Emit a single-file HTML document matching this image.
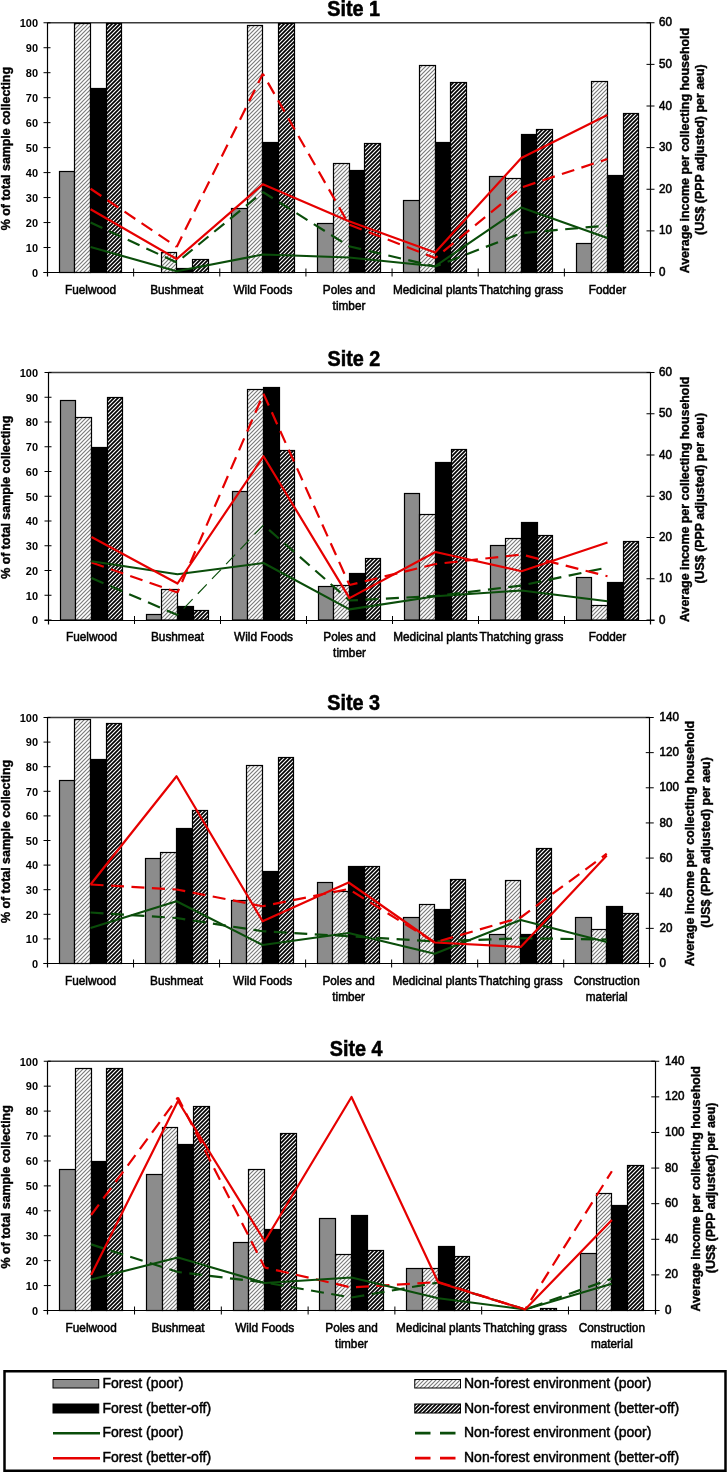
<!DOCTYPE html>
<html><head><meta charset="utf-8"><title>Chart</title>
<style>html,body{margin:0;padding:0;background:#fff;width:728px;height:1473px;overflow:hidden}
text{font-family:"Liberation Sans", sans-serif;fill:#000}
svg{will-change:transform;transform:translateZ(0);background:transparent}</style></head>
<body>
<svg width="728" height="1473" viewBox="0 0 728 1473" style="display:block"><defs>
<pattern id="hl" patternUnits="userSpaceOnUse" width="4" height="4">
<rect width="4" height="4" fill="#fff"/>
<path d="M-1,1 L1,-1 M0,4 L4,0 M3,5 L5,3" stroke="#7a7a7a" stroke-width="1.15"/>
</pattern>
<pattern id="hd" patternUnits="userSpaceOnUse" width="4" height="4">
<rect width="4" height="4" fill="#fff"/>
<path d="M-1,1 L1,-1 M0,4 L4,0 M3,5 L5,3" stroke="#000" stroke-width="1.7"/>
</pattern>
</defs><rect width="728" height="1473" fill="#fff"/><g><line x1="47.5" y1="22.75" x2="650.5" y2="22.75" stroke="#3a3a3a" stroke-width="1.3"/><rect x="59.5" y="171.5" width="15" height="101" fill="#8c8c8c" stroke="#000" stroke-width="1.2"/><rect x="74.5" y="23.5" width="16" height="249" fill="url(#hl)" stroke="#000" stroke-width="1.2"/><rect x="90.5" y="88.5" width="16" height="184" fill="#000" stroke="#000" stroke-width="1.2"/><rect x="106.5" y="23.5" width="15" height="249" fill="url(#hd)" stroke="#000" stroke-width="1.2"/><rect x="161.5" y="252.5" width="15" height="20" fill="url(#hl)" stroke="#000" stroke-width="1.2"/><rect x="176.5" y="268.5" width="16" height="4" fill="#000" stroke="#000" stroke-width="1.2"/><rect x="192.5" y="259.5" width="16" height="13" fill="url(#hd)" stroke="#000" stroke-width="1.2"/><rect x="231.5" y="208.5" width="16" height="64" fill="#8c8c8c" stroke="#000" stroke-width="1.2"/><rect x="247.5" y="25.5" width="15" height="247" fill="url(#hl)" stroke="#000" stroke-width="1.2"/><rect x="262.5" y="142.5" width="16" height="130" fill="#000" stroke="#000" stroke-width="1.2"/><rect x="278.5" y="23.5" width="16" height="249" fill="url(#hd)" stroke="#000" stroke-width="1.2"/><rect x="317.5" y="223.5" width="16" height="49" fill="#8c8c8c" stroke="#000" stroke-width="1.2"/><rect x="333.5" y="163.5" width="16" height="109" fill="url(#hl)" stroke="#000" stroke-width="1.2"/><rect x="349.5" y="170.5" width="15" height="102" fill="#000" stroke="#000" stroke-width="1.2"/><rect x="364.5" y="143.5" width="16" height="129" fill="url(#hd)" stroke="#000" stroke-width="1.2"/><rect x="403.5" y="200.5" width="16" height="72" fill="#8c8c8c" stroke="#000" stroke-width="1.2"/><rect x="419.5" y="65.5" width="16" height="207" fill="url(#hl)" stroke="#000" stroke-width="1.2"/><rect x="435.5" y="142.5" width="15" height="130" fill="#000" stroke="#000" stroke-width="1.2"/><rect x="450.5" y="82.5" width="16" height="190" fill="url(#hd)" stroke="#000" stroke-width="1.2"/><rect x="489.5" y="176.5" width="16" height="96" fill="#8c8c8c" stroke="#000" stroke-width="1.2"/><rect x="505.5" y="178.5" width="16" height="94" fill="url(#hl)" stroke="#000" stroke-width="1.2"/><rect x="521.5" y="134.5" width="15" height="138" fill="#000" stroke="#000" stroke-width="1.2"/><rect x="536.5" y="129.5" width="16" height="143" fill="url(#hd)" stroke="#000" stroke-width="1.2"/><rect x="576.5" y="243.5" width="15" height="29" fill="#8c8c8c" stroke="#000" stroke-width="1.2"/><rect x="591.5" y="81.5" width="16" height="191" fill="url(#hl)" stroke="#000" stroke-width="1.2"/><rect x="607.5" y="175.5" width="16" height="97" fill="#000" stroke="#000" stroke-width="1.2"/><rect x="623.5" y="113.5" width="15" height="159" fill="url(#hd)" stroke="#000" stroke-width="1.2"/><line x1="47.5" y1="22.75" x2="47.5" y2="276.5" stroke="#000" stroke-width="1.2"/><line x1="650.5" y1="22.75" x2="650.5" y2="276.5" stroke="#000" stroke-width="1.2"/><line x1="43.5" y1="272.5" x2="654.5" y2="272.5" stroke="#000" stroke-width="1.2"/><line x1="43.5" y1="272.5" x2="50.5" y2="272.5" stroke="#000" stroke-width="1"/><text transform="translate(38,276.8) scale(1,1.05)" font-size="11" font-weight="bold" text-anchor="end">0</text><line x1="43.5" y1="247.53" x2="50.5" y2="247.53" stroke="#000" stroke-width="1"/><text transform="translate(38,251.83) scale(1,1.05)" font-size="11" font-weight="bold" text-anchor="end">10</text><line x1="43.5" y1="222.55" x2="50.5" y2="222.55" stroke="#000" stroke-width="1"/><text transform="translate(38,226.85) scale(1,1.05)" font-size="11" font-weight="bold" text-anchor="end">20</text><line x1="43.5" y1="197.57" x2="50.5" y2="197.57" stroke="#000" stroke-width="1"/><text transform="translate(38,201.88) scale(1,1.05)" font-size="11" font-weight="bold" text-anchor="end">30</text><line x1="43.5" y1="172.6" x2="50.5" y2="172.6" stroke="#000" stroke-width="1"/><text transform="translate(38,176.9) scale(1,1.05)" font-size="11" font-weight="bold" text-anchor="end">40</text><line x1="43.5" y1="147.62" x2="50.5" y2="147.62" stroke="#000" stroke-width="1"/><text transform="translate(38,151.93) scale(1,1.05)" font-size="11" font-weight="bold" text-anchor="end">50</text><line x1="43.5" y1="122.65" x2="50.5" y2="122.65" stroke="#000" stroke-width="1"/><text transform="translate(38,126.95) scale(1,1.05)" font-size="11" font-weight="bold" text-anchor="end">60</text><line x1="43.5" y1="97.68" x2="50.5" y2="97.68" stroke="#000" stroke-width="1"/><text transform="translate(38,101.98) scale(1,1.05)" font-size="11" font-weight="bold" text-anchor="end">70</text><line x1="43.5" y1="72.7" x2="50.5" y2="72.7" stroke="#000" stroke-width="1"/><text transform="translate(38,77) scale(1,1.05)" font-size="11" font-weight="bold" text-anchor="end">80</text><line x1="43.5" y1="47.72" x2="50.5" y2="47.72" stroke="#000" stroke-width="1"/><text transform="translate(38,52.02) scale(1,1.05)" font-size="11" font-weight="bold" text-anchor="end">90</text><line x1="43.5" y1="22.75" x2="50.5" y2="22.75" stroke="#000" stroke-width="1"/><text transform="translate(38,27.05) scale(1,1.05)" font-size="11" font-weight="bold" text-anchor="end">100</text><line x1="646.5" y1="272.5" x2="654.5" y2="272.5" stroke="#000" stroke-width="1"/><text transform="translate(659,276.1) scale(1,1.07)" font-size="11.6" text-anchor="start" stroke="#000" stroke-width="0.55">0</text><line x1="646.5" y1="230.88" x2="654.5" y2="230.88" stroke="#000" stroke-width="1"/><text transform="translate(659,234.47) scale(1,1.07)" font-size="11.6" text-anchor="start" stroke="#000" stroke-width="0.55">10</text><line x1="646.5" y1="189.25" x2="654.5" y2="189.25" stroke="#000" stroke-width="1"/><text transform="translate(659,192.85) scale(1,1.07)" font-size="11.6" text-anchor="start" stroke="#000" stroke-width="0.55">20</text><line x1="646.5" y1="147.62" x2="654.5" y2="147.62" stroke="#000" stroke-width="1"/><text transform="translate(659,151.22) scale(1,1.07)" font-size="11.6" text-anchor="start" stroke="#000" stroke-width="0.55">30</text><line x1="646.5" y1="106" x2="654.5" y2="106" stroke="#000" stroke-width="1"/><text transform="translate(659,109.6) scale(1,1.07)" font-size="11.6" text-anchor="start" stroke="#000" stroke-width="0.55">40</text><line x1="646.5" y1="64.38" x2="654.5" y2="64.38" stroke="#000" stroke-width="1"/><text transform="translate(659,67.97) scale(1,1.07)" font-size="11.6" text-anchor="start" stroke="#000" stroke-width="0.55">50</text><line x1="646.5" y1="22.75" x2="654.5" y2="22.75" stroke="#000" stroke-width="1"/><text transform="translate(659,26.35) scale(1,1.07)" font-size="11.6" text-anchor="start" stroke="#000" stroke-width="0.55">60</text><line x1="133.64" y1="268.5" x2="133.64" y2="276.5" stroke="#000" stroke-width="1"/><line x1="219.79" y1="268.5" x2="219.79" y2="276.5" stroke="#000" stroke-width="1"/><line x1="305.93" y1="268.5" x2="305.93" y2="276.5" stroke="#000" stroke-width="1"/><line x1="392.07" y1="268.5" x2="392.07" y2="276.5" stroke="#000" stroke-width="1"/><line x1="478.21" y1="268.5" x2="478.21" y2="276.5" stroke="#000" stroke-width="1"/><line x1="564.36" y1="268.5" x2="564.36" y2="276.5" stroke="#000" stroke-width="1"/><text transform="translate(90.57,293.75) scale(1,1.1)" font-size="11.8" text-anchor="middle" stroke="#000" stroke-width="0.5">Fuelwood</text><text transform="translate(176.71,293.75) scale(1,1.1)" font-size="11.8" text-anchor="middle" stroke="#000" stroke-width="0.5">Bushmeat</text><text transform="translate(262.86,293.75) scale(1,1.1)" font-size="11.8" text-anchor="middle" stroke="#000" stroke-width="0.5">Wild Foods</text><text transform="translate(349,293.75) scale(1,1.1)" font-size="11.8" text-anchor="middle" stroke="#000" stroke-width="0.5">Poles and</text><text transform="translate(349,309.75) scale(1,1.1)" font-size="11.8" text-anchor="middle" stroke="#000" stroke-width="0.5">timber</text><text transform="translate(435.14,293.75) scale(1,1.1)" font-size="11.8" text-anchor="middle" stroke="#000" stroke-width="0.5">Medicinal plants</text><text transform="translate(521.29,293.75) scale(1,1.1)" font-size="11.8" text-anchor="middle" stroke="#000" stroke-width="0.5">Thatching grass</text><text transform="translate(607.43,293.75) scale(1,1.1)" font-size="11.8" text-anchor="middle" stroke="#000" stroke-width="0.5">Fodder</text><line x1="90.57" y1="222.5" x2="176.71" y2="262.5" stroke="#0a4d0a" stroke-width="2.2" stroke-dasharray="13,7.5" stroke-dashoffset="0"/><line x1="176.71" y1="262.5" x2="262.86" y2="192" stroke="#0a4d0a" stroke-width="2.2" stroke-dasharray="13,7.5" stroke-dashoffset="94.98"/><line x1="262.86" y1="192" x2="349" y2="246.25" stroke="#0a4d0a" stroke-width="2.2" stroke-dasharray="13,7.5" stroke-dashoffset="206.29"/><line x1="349" y1="246.25" x2="435.14" y2="266.5" stroke="#0a4d0a" stroke-width="2.2" stroke-dasharray="13,7.5" stroke-dashoffset="308.09"/><line x1="435.14" y1="266.5" x2="521.29" y2="233.2" stroke="#0a4d0a" stroke-width="2.2" stroke-dasharray="13,7.5" stroke-dashoffset="396.58"/><line x1="521.29" y1="233.2" x2="607.43" y2="225.5" stroke="#0a4d0a" stroke-width="2.2" stroke-dasharray="13,7.5" stroke-dashoffset="488.94"/><line x1="90.57" y1="188.75" x2="176.71" y2="246.9" stroke="#e60000" stroke-width="2.2" stroke-dasharray="13,7.5" stroke-dashoffset="0"/><line x1="176.71" y1="246.9" x2="262.86" y2="73.75" stroke="#e60000" stroke-width="2.2" stroke-dasharray="13,7.5" stroke-dashoffset="103.93"/><line x1="262.86" y1="73.75" x2="349" y2="224.5" stroke="#e60000" stroke-width="2.2" stroke-dasharray="13,7.5" stroke-dashoffset="297.33"/><line x1="349" y1="224.5" x2="435.14" y2="258" stroke="#e60000" stroke-width="2.2" stroke-dasharray="13,7.5" stroke-dashoffset="470.95"/><line x1="435.14" y1="258" x2="521.29" y2="187.5" stroke="#e60000" stroke-width="2.2" stroke-dasharray="13,7.5" stroke-dashoffset="563.38"/><line x1="521.29" y1="187.5" x2="607.43" y2="159" stroke="#e60000" stroke-width="2.2" stroke-dasharray="13,7.5" stroke-dashoffset="674.7"/><polyline points="90.57,247 176.71,271.25 262.86,254.5 349,257.5 435.14,266.25 521.29,207.5 607.43,238" fill="none" stroke="#0a4d0a" stroke-width="2.1" stroke-linejoin="round"/><polyline points="90.57,209.25 176.71,259 262.86,184.25 349,221.25 435.14,252.5 521.29,158 607.43,115" fill="none" stroke="#e60000" stroke-width="2.2" stroke-linejoin="round"/><text transform="translate(327.2,15.9) scale(1,1.1)" font-size="19.8" font-weight="bold" stroke="#000" stroke-width="0.5">Site 1</text><text transform="translate(10.2,148.62) rotate(-90)" font-size="12.4" font-weight="bold" stroke="#000" stroke-width="0.4" text-anchor="middle">% of total sample collecting</text><text transform="translate(688.5,150.62) rotate(-90)" font-size="12.4" font-weight="bold" stroke="#000" stroke-width="0.4" text-anchor="middle">Average income per collecting household</text><text transform="translate(704,149.62) rotate(-90)" font-size="12.4" font-weight="bold" stroke="#000" stroke-width="0.4" text-anchor="middle">(US$ (PPP adjusted) per aeu)</text></g><g><line x1="48.5" y1="372.5" x2="650.5" y2="372.5" stroke="#3a3a3a" stroke-width="1.3"/><rect x="60.5" y="400.5" width="15" height="219.5" fill="#8c8c8c" stroke="#000" stroke-width="1.2"/><rect x="75.5" y="417.5" width="16" height="202.5" fill="url(#hl)" stroke="#000" stroke-width="1.2"/><rect x="91.5" y="447.5" width="16" height="172.5" fill="#000" stroke="#000" stroke-width="1.2"/><rect x="107.5" y="397.5" width="15" height="222.5" fill="url(#hd)" stroke="#000" stroke-width="1.2"/><rect x="146.5" y="614.5" width="15" height="5.5" fill="#8c8c8c" stroke="#000" stroke-width="1.2"/><rect x="161.5" y="589.5" width="16" height="30.5" fill="url(#hl)" stroke="#000" stroke-width="1.2"/><rect x="177.5" y="606.5" width="16" height="13.5" fill="#000" stroke="#000" stroke-width="1.2"/><rect x="193.5" y="610.5" width="15" height="9.5" fill="url(#hd)" stroke="#000" stroke-width="1.2"/><rect x="232.5" y="491.5" width="15" height="128.5" fill="#8c8c8c" stroke="#000" stroke-width="1.2"/><rect x="247.5" y="389.5" width="16" height="230.5" fill="url(#hl)" stroke="#000" stroke-width="1.2"/><rect x="263.5" y="387.5" width="16" height="232.5" fill="#000" stroke="#000" stroke-width="1.2"/><rect x="279.5" y="450.5" width="15" height="169.5" fill="url(#hd)" stroke="#000" stroke-width="1.2"/><rect x="318.5" y="586.5" width="15" height="33.5" fill="#8c8c8c" stroke="#000" stroke-width="1.2"/><rect x="333.5" y="585.5" width="16" height="34.5" fill="url(#hl)" stroke="#000" stroke-width="1.2"/><rect x="349.5" y="573.5" width="16" height="46.5" fill="#000" stroke="#000" stroke-width="1.2"/><rect x="365.5" y="558.5" width="15" height="61.5" fill="url(#hd)" stroke="#000" stroke-width="1.2"/><rect x="404.5" y="493.5" width="15" height="126.5" fill="#8c8c8c" stroke="#000" stroke-width="1.2"/><rect x="419.5" y="514.5" width="16" height="105.5" fill="url(#hl)" stroke="#000" stroke-width="1.2"/><rect x="435.5" y="462.5" width="16" height="157.5" fill="#000" stroke="#000" stroke-width="1.2"/><rect x="451.5" y="449.5" width="15" height="170.5" fill="url(#hd)" stroke="#000" stroke-width="1.2"/><rect x="490.5" y="545.5" width="15" height="74.5" fill="#8c8c8c" stroke="#000" stroke-width="1.2"/><rect x="505.5" y="538.5" width="16" height="81.5" fill="url(#hl)" stroke="#000" stroke-width="1.2"/><rect x="521.5" y="522.5" width="16" height="97.5" fill="#000" stroke="#000" stroke-width="1.2"/><rect x="537.5" y="535.5" width="15" height="84.5" fill="url(#hd)" stroke="#000" stroke-width="1.2"/><rect x="576.5" y="577.5" width="15" height="42.5" fill="#8c8c8c" stroke="#000" stroke-width="1.2"/><rect x="591.5" y="605.5" width="16" height="14.5" fill="url(#hl)" stroke="#000" stroke-width="1.2"/><rect x="607.5" y="582.5" width="16" height="37.5" fill="#000" stroke="#000" stroke-width="1.2"/><rect x="623.5" y="541.5" width="15" height="78.5" fill="url(#hd)" stroke="#000" stroke-width="1.2"/><line x1="48.5" y1="372.5" x2="48.5" y2="624.5" stroke="#000" stroke-width="1.2"/><line x1="650.5" y1="372.5" x2="650.5" y2="624.5" stroke="#000" stroke-width="1.2"/><line x1="44.5" y1="620.5" x2="654.5" y2="620.5" stroke="#000" stroke-width="1.2"/><line x1="44.5" y1="620" x2="51.5" y2="620" stroke="#000" stroke-width="1"/><text transform="translate(38,624.3) scale(1,1.05)" font-size="11" font-weight="bold" text-anchor="end">0</text><line x1="44.5" y1="595.25" x2="51.5" y2="595.25" stroke="#000" stroke-width="1"/><text transform="translate(38,599.55) scale(1,1.05)" font-size="11" font-weight="bold" text-anchor="end">10</text><line x1="44.5" y1="570.5" x2="51.5" y2="570.5" stroke="#000" stroke-width="1"/><text transform="translate(38,574.8) scale(1,1.05)" font-size="11" font-weight="bold" text-anchor="end">20</text><line x1="44.5" y1="545.75" x2="51.5" y2="545.75" stroke="#000" stroke-width="1"/><text transform="translate(38,550.05) scale(1,1.05)" font-size="11" font-weight="bold" text-anchor="end">30</text><line x1="44.5" y1="521" x2="51.5" y2="521" stroke="#000" stroke-width="1"/><text transform="translate(38,525.3) scale(1,1.05)" font-size="11" font-weight="bold" text-anchor="end">40</text><line x1="44.5" y1="496.25" x2="51.5" y2="496.25" stroke="#000" stroke-width="1"/><text transform="translate(38,500.55) scale(1,1.05)" font-size="11" font-weight="bold" text-anchor="end">50</text><line x1="44.5" y1="471.5" x2="51.5" y2="471.5" stroke="#000" stroke-width="1"/><text transform="translate(38,475.8) scale(1,1.05)" font-size="11" font-weight="bold" text-anchor="end">60</text><line x1="44.5" y1="446.75" x2="51.5" y2="446.75" stroke="#000" stroke-width="1"/><text transform="translate(38,451.05) scale(1,1.05)" font-size="11" font-weight="bold" text-anchor="end">70</text><line x1="44.5" y1="422" x2="51.5" y2="422" stroke="#000" stroke-width="1"/><text transform="translate(38,426.3) scale(1,1.05)" font-size="11" font-weight="bold" text-anchor="end">80</text><line x1="44.5" y1="397.25" x2="51.5" y2="397.25" stroke="#000" stroke-width="1"/><text transform="translate(38,401.55) scale(1,1.05)" font-size="11" font-weight="bold" text-anchor="end">90</text><line x1="44.5" y1="372.5" x2="51.5" y2="372.5" stroke="#000" stroke-width="1"/><text transform="translate(38,376.8) scale(1,1.05)" font-size="11" font-weight="bold" text-anchor="end">100</text><line x1="646.5" y1="620" x2="654.5" y2="620" stroke="#000" stroke-width="1"/><text transform="translate(659,623.6) scale(1,1.07)" font-size="11.6" text-anchor="start" stroke="#000" stroke-width="0.55">0</text><line x1="646.5" y1="578.75" x2="654.5" y2="578.75" stroke="#000" stroke-width="1"/><text transform="translate(659,582.35) scale(1,1.07)" font-size="11.6" text-anchor="start" stroke="#000" stroke-width="0.55">10</text><line x1="646.5" y1="537.5" x2="654.5" y2="537.5" stroke="#000" stroke-width="1"/><text transform="translate(659,541.1) scale(1,1.07)" font-size="11.6" text-anchor="start" stroke="#000" stroke-width="0.55">20</text><line x1="646.5" y1="496.25" x2="654.5" y2="496.25" stroke="#000" stroke-width="1"/><text transform="translate(659,499.85) scale(1,1.07)" font-size="11.6" text-anchor="start" stroke="#000" stroke-width="0.55">30</text><line x1="646.5" y1="455" x2="654.5" y2="455" stroke="#000" stroke-width="1"/><text transform="translate(659,458.6) scale(1,1.07)" font-size="11.6" text-anchor="start" stroke="#000" stroke-width="0.55">40</text><line x1="646.5" y1="413.75" x2="654.5" y2="413.75" stroke="#000" stroke-width="1"/><text transform="translate(659,417.35) scale(1,1.07)" font-size="11.6" text-anchor="start" stroke="#000" stroke-width="0.55">50</text><line x1="646.5" y1="372.5" x2="654.5" y2="372.5" stroke="#000" stroke-width="1"/><text transform="translate(659,376.1) scale(1,1.07)" font-size="11.6" text-anchor="start" stroke="#000" stroke-width="0.55">60</text><line x1="134.5" y1="616" x2="134.5" y2="624" stroke="#000" stroke-width="1"/><line x1="220.5" y1="616" x2="220.5" y2="624" stroke="#000" stroke-width="1"/><line x1="306.5" y1="616" x2="306.5" y2="624" stroke="#000" stroke-width="1"/><line x1="392.5" y1="616" x2="392.5" y2="624" stroke="#000" stroke-width="1"/><line x1="478.5" y1="616" x2="478.5" y2="624" stroke="#000" stroke-width="1"/><line x1="564.5" y1="616" x2="564.5" y2="624" stroke="#000" stroke-width="1"/><text transform="translate(91.5,641.25) scale(1,1.1)" font-size="11.8" text-anchor="middle" stroke="#000" stroke-width="0.5">Fuelwood</text><text transform="translate(177.5,641.25) scale(1,1.1)" font-size="11.8" text-anchor="middle" stroke="#000" stroke-width="0.5">Bushmeat</text><text transform="translate(263.5,641.25) scale(1,1.1)" font-size="11.8" text-anchor="middle" stroke="#000" stroke-width="0.5">Wild Foods</text><text transform="translate(349.5,641.25) scale(1,1.1)" font-size="11.8" text-anchor="middle" stroke="#000" stroke-width="0.5">Poles and</text><text transform="translate(349.5,657.25) scale(1,1.1)" font-size="11.8" text-anchor="middle" stroke="#000" stroke-width="0.5">timber</text><text transform="translate(435.5,641.25) scale(1,1.1)" font-size="11.8" text-anchor="middle" stroke="#000" stroke-width="0.5">Medicinal plants</text><text transform="translate(521.5,641.25) scale(1,1.1)" font-size="11.8" text-anchor="middle" stroke="#000" stroke-width="0.5">Thatching grass</text><text transform="translate(607.5,641.25) scale(1,1.1)" font-size="11.8" text-anchor="middle" stroke="#000" stroke-width="0.5">Fodder</text><line x1="91.5" y1="578" x2="177.5" y2="615" stroke="#0a4d0a" stroke-width="2.2" stroke-dasharray="13,7.5" stroke-dashoffset="0"/><line x1="177.5" y1="615" x2="263.5" y2="525" stroke="#0a4d0a" stroke-width="1.15" stroke-dasharray="13,7.5" stroke-dashoffset="93.62"/><line x1="263.5" y1="525" x2="349.5" y2="600.5" stroke="#0a4d0a" stroke-width="2.2" stroke-dasharray="13,7.5" stroke-dashoffset="218.1"/><line x1="349.5" y1="600.5" x2="435.5" y2="596" stroke="#0a4d0a" stroke-width="2.2" stroke-dasharray="13,7.5" stroke-dashoffset="332.54"/><line x1="435.5" y1="596" x2="521.5" y2="585.5" stroke="#0a4d0a" stroke-width="2.2" stroke-dasharray="13,7.5" stroke-dashoffset="418.66"/><line x1="521.5" y1="585.5" x2="607.5" y2="567.5" stroke="#0a4d0a" stroke-width="2.2" stroke-dasharray="13,7.5" stroke-dashoffset="505.3"/><line x1="91.5" y1="562.5" x2="177.5" y2="592.5" stroke="#e60000" stroke-width="2.2" stroke-dasharray="13,7.5" stroke-dashoffset="0"/><line x1="177.5" y1="592.5" x2="263.5" y2="393.75" stroke="#e60000" stroke-width="2.2" stroke-dasharray="13,7.5" stroke-dashoffset="91.08"/><line x1="263.5" y1="393.75" x2="349.5" y2="585" stroke="#e60000" stroke-width="2.2" stroke-dasharray="13,7.5" stroke-dashoffset="307.64"/><line x1="349.5" y1="585" x2="435.5" y2="564" stroke="#e60000" stroke-width="2.2" stroke-dasharray="13,7.5" stroke-dashoffset="517.34"/><line x1="435.5" y1="564" x2="521.5" y2="554.5" stroke="#e60000" stroke-width="2.2" stroke-dasharray="13,7.5" stroke-dashoffset="605.86"/><line x1="521.5" y1="554.5" x2="607.5" y2="576.25" stroke="#e60000" stroke-width="2.2" stroke-dasharray="13,7.5" stroke-dashoffset="692.39"/><polyline points="91.5,561.25 177.5,574.25 263.5,563 349.5,609.4 435.5,596.25 521.5,590.5 607.5,601.25" fill="none" stroke="#0a4d0a" stroke-width="2.1" stroke-linejoin="round"/><polyline points="91.5,537 177.5,583.5 263.5,456.25 349.5,598.1 435.5,552 521.5,571.25 607.5,542.5" fill="none" stroke="#e60000" stroke-width="2.2" stroke-linejoin="round"/><text transform="translate(327.5,365.8) scale(1,1.1)" font-size="19.8" font-weight="bold" stroke="#000" stroke-width="0.5">Site 2</text><text transform="translate(10.2,497.25) rotate(-90)" font-size="12.4" font-weight="bold" stroke="#000" stroke-width="0.4" text-anchor="middle">% of total sample collecting</text><text transform="translate(688.5,499.25) rotate(-90)" font-size="12.4" font-weight="bold" stroke="#000" stroke-width="0.4" text-anchor="middle">Average income per collecting household</text><text transform="translate(704,498.25) rotate(-90)" font-size="12.4" font-weight="bold" stroke="#000" stroke-width="0.4" text-anchor="middle">(US$ (PPP adjusted) per aeu)</text></g><g><line x1="47.5" y1="717.5" x2="649.75" y2="717.5" stroke="#3a3a3a" stroke-width="1.3"/><rect x="59.5" y="780.5" width="15" height="183" fill="#8c8c8c" stroke="#000" stroke-width="1.2"/><rect x="74.5" y="719.5" width="16" height="244" fill="url(#hl)" stroke="#000" stroke-width="1.2"/><rect x="90.5" y="759.5" width="16" height="204" fill="#000" stroke="#000" stroke-width="1.2"/><rect x="106.5" y="723.5" width="15" height="240" fill="url(#hd)" stroke="#000" stroke-width="1.2"/><rect x="145.5" y="858.5" width="15" height="105" fill="#8c8c8c" stroke="#000" stroke-width="1.2"/><rect x="160.5" y="852.5" width="16" height="111" fill="url(#hl)" stroke="#000" stroke-width="1.2"/><rect x="176.5" y="828.5" width="16" height="135" fill="#000" stroke="#000" stroke-width="1.2"/><rect x="192.5" y="810.5" width="15" height="153" fill="url(#hd)" stroke="#000" stroke-width="1.2"/><rect x="231.5" y="900.5" width="15" height="63" fill="#8c8c8c" stroke="#000" stroke-width="1.2"/><rect x="246.5" y="765.5" width="16" height="198" fill="url(#hl)" stroke="#000" stroke-width="1.2"/><rect x="262.5" y="871.5" width="16" height="92" fill="#000" stroke="#000" stroke-width="1.2"/><rect x="278.5" y="757.5" width="15" height="206" fill="url(#hd)" stroke="#000" stroke-width="1.2"/><rect x="317.5" y="882.5" width="15" height="81" fill="#8c8c8c" stroke="#000" stroke-width="1.2"/><rect x="332.5" y="891.5" width="16" height="72" fill="url(#hl)" stroke="#000" stroke-width="1.2"/><rect x="348.5" y="866.5" width="16" height="97" fill="#000" stroke="#000" stroke-width="1.2"/><rect x="364.5" y="866.5" width="15" height="97" fill="url(#hd)" stroke="#000" stroke-width="1.2"/><rect x="403.5" y="917.5" width="16" height="46" fill="#8c8c8c" stroke="#000" stroke-width="1.2"/><rect x="419.5" y="904.5" width="15" height="59" fill="url(#hl)" stroke="#000" stroke-width="1.2"/><rect x="434.5" y="909.5" width="16" height="54" fill="#000" stroke="#000" stroke-width="1.2"/><rect x="450.5" y="879.5" width="15" height="84" fill="url(#hd)" stroke="#000" stroke-width="1.2"/><rect x="489.5" y="934.5" width="16" height="29" fill="#8c8c8c" stroke="#000" stroke-width="1.2"/><rect x="505.5" y="880.5" width="15" height="83" fill="url(#hl)" stroke="#000" stroke-width="1.2"/><rect x="520.5" y="934.5" width="16" height="29" fill="#000" stroke="#000" stroke-width="1.2"/><rect x="536.5" y="848.5" width="15" height="115" fill="url(#hd)" stroke="#000" stroke-width="1.2"/><rect x="575.5" y="917.5" width="16" height="46" fill="#8c8c8c" stroke="#000" stroke-width="1.2"/><rect x="591.5" y="929.5" width="15" height="34" fill="url(#hl)" stroke="#000" stroke-width="1.2"/><rect x="606.5" y="906.5" width="16" height="57" fill="#000" stroke="#000" stroke-width="1.2"/><rect x="622.5" y="913.5" width="16" height="50" fill="url(#hd)" stroke="#000" stroke-width="1.2"/><line x1="47.5" y1="717.5" x2="47.5" y2="967.5" stroke="#000" stroke-width="1.2"/><line x1="649.5" y1="717.5" x2="649.5" y2="967.5" stroke="#000" stroke-width="1.2"/><line x1="43.5" y1="963.5" x2="653.5" y2="963.5" stroke="#000" stroke-width="1.2"/><line x1="43.5" y1="963.5" x2="50.5" y2="963.5" stroke="#000" stroke-width="1"/><text transform="translate(38,967.8) scale(1,1.05)" font-size="11" font-weight="bold" text-anchor="end">0</text><line x1="43.5" y1="938.9" x2="50.5" y2="938.9" stroke="#000" stroke-width="1"/><text transform="translate(38,943.2) scale(1,1.05)" font-size="11" font-weight="bold" text-anchor="end">10</text><line x1="43.5" y1="914.3" x2="50.5" y2="914.3" stroke="#000" stroke-width="1"/><text transform="translate(38,918.6) scale(1,1.05)" font-size="11" font-weight="bold" text-anchor="end">20</text><line x1="43.5" y1="889.7" x2="50.5" y2="889.7" stroke="#000" stroke-width="1"/><text transform="translate(38,894) scale(1,1.05)" font-size="11" font-weight="bold" text-anchor="end">30</text><line x1="43.5" y1="865.1" x2="50.5" y2="865.1" stroke="#000" stroke-width="1"/><text transform="translate(38,869.4) scale(1,1.05)" font-size="11" font-weight="bold" text-anchor="end">40</text><line x1="43.5" y1="840.5" x2="50.5" y2="840.5" stroke="#000" stroke-width="1"/><text transform="translate(38,844.8) scale(1,1.05)" font-size="11" font-weight="bold" text-anchor="end">50</text><line x1="43.5" y1="815.9" x2="50.5" y2="815.9" stroke="#000" stroke-width="1"/><text transform="translate(38,820.2) scale(1,1.05)" font-size="11" font-weight="bold" text-anchor="end">60</text><line x1="43.5" y1="791.3" x2="50.5" y2="791.3" stroke="#000" stroke-width="1"/><text transform="translate(38,795.6) scale(1,1.05)" font-size="11" font-weight="bold" text-anchor="end">70</text><line x1="43.5" y1="766.7" x2="50.5" y2="766.7" stroke="#000" stroke-width="1"/><text transform="translate(38,771) scale(1,1.05)" font-size="11" font-weight="bold" text-anchor="end">80</text><line x1="43.5" y1="742.1" x2="50.5" y2="742.1" stroke="#000" stroke-width="1"/><text transform="translate(38,746.4) scale(1,1.05)" font-size="11" font-weight="bold" text-anchor="end">90</text><line x1="43.5" y1="717.5" x2="50.5" y2="717.5" stroke="#000" stroke-width="1"/><text transform="translate(38,721.8) scale(1,1.05)" font-size="11" font-weight="bold" text-anchor="end">100</text><line x1="645.75" y1="963.5" x2="653.75" y2="963.5" stroke="#000" stroke-width="1"/><text transform="translate(659.5,967.1) scale(1,1.07)" font-size="11.6" text-anchor="start" stroke="#000" stroke-width="0.55">0</text><line x1="645.75" y1="928.36" x2="653.75" y2="928.36" stroke="#000" stroke-width="1"/><text transform="translate(659.5,931.96) scale(1,1.07)" font-size="11.6" text-anchor="start" stroke="#000" stroke-width="0.55">20</text><line x1="645.75" y1="893.21" x2="653.75" y2="893.21" stroke="#000" stroke-width="1"/><text transform="translate(659.5,896.81) scale(1,1.07)" font-size="11.6" text-anchor="start" stroke="#000" stroke-width="0.55">40</text><line x1="645.75" y1="858.07" x2="653.75" y2="858.07" stroke="#000" stroke-width="1"/><text transform="translate(659.5,861.67) scale(1,1.07)" font-size="11.6" text-anchor="start" stroke="#000" stroke-width="0.55">60</text><line x1="645.75" y1="822.93" x2="653.75" y2="822.93" stroke="#000" stroke-width="1"/><text transform="translate(659.5,826.53) scale(1,1.07)" font-size="11.6" text-anchor="start" stroke="#000" stroke-width="0.55">80</text><line x1="645.75" y1="787.79" x2="653.75" y2="787.79" stroke="#000" stroke-width="1"/><text transform="translate(659.5,791.39) scale(1,1.07)" font-size="11.6" text-anchor="start" stroke="#000" stroke-width="0.55">100</text><line x1="645.75" y1="752.64" x2="653.75" y2="752.64" stroke="#000" stroke-width="1"/><text transform="translate(659.5,756.24) scale(1,1.07)" font-size="11.6" text-anchor="start" stroke="#000" stroke-width="0.55">120</text><line x1="645.75" y1="717.5" x2="653.75" y2="717.5" stroke="#000" stroke-width="1"/><text transform="translate(659.5,721.1) scale(1,1.07)" font-size="11.6" text-anchor="start" stroke="#000" stroke-width="0.55">140</text><line x1="133.54" y1="959.5" x2="133.54" y2="967.5" stroke="#000" stroke-width="1"/><line x1="219.57" y1="959.5" x2="219.57" y2="967.5" stroke="#000" stroke-width="1"/><line x1="305.61" y1="959.5" x2="305.61" y2="967.5" stroke="#000" stroke-width="1"/><line x1="391.64" y1="959.5" x2="391.64" y2="967.5" stroke="#000" stroke-width="1"/><line x1="477.68" y1="959.5" x2="477.68" y2="967.5" stroke="#000" stroke-width="1"/><line x1="563.71" y1="959.5" x2="563.71" y2="967.5" stroke="#000" stroke-width="1"/><text transform="translate(90.52,984.75) scale(1,1.1)" font-size="11.8" text-anchor="middle" stroke="#000" stroke-width="0.5">Fuelwood</text><text transform="translate(176.55,984.75) scale(1,1.1)" font-size="11.8" text-anchor="middle" stroke="#000" stroke-width="0.5">Bushmeat</text><text transform="translate(262.59,984.75) scale(1,1.1)" font-size="11.8" text-anchor="middle" stroke="#000" stroke-width="0.5">Wild Foods</text><text transform="translate(348.62,984.75) scale(1,1.1)" font-size="11.8" text-anchor="middle" stroke="#000" stroke-width="0.5">Poles and</text><text transform="translate(348.62,1000.75) scale(1,1.1)" font-size="11.8" text-anchor="middle" stroke="#000" stroke-width="0.5">timber</text><text transform="translate(434.66,984.75) scale(1,1.1)" font-size="11.8" text-anchor="middle" stroke="#000" stroke-width="0.5">Medicinal plants</text><text transform="translate(520.7,984.75) scale(1,1.1)" font-size="11.8" text-anchor="middle" stroke="#000" stroke-width="0.5">Thatching grass</text><text transform="translate(606.73,984.75) scale(1,1.1)" font-size="11.8" text-anchor="middle" stroke="#000" stroke-width="0.5">Construction</text><text transform="translate(606.73,1000.75) scale(1,1.1)" font-size="11.8" text-anchor="middle" stroke="#000" stroke-width="0.5">material</text><line x1="90.52" y1="912.5" x2="176.55" y2="918" stroke="#0a4d0a" stroke-width="2.2" stroke-dasharray="13,7.5" stroke-dashoffset="0"/><line x1="176.55" y1="918" x2="262.59" y2="931.25" stroke="#0a4d0a" stroke-width="2.2" stroke-dasharray="13,7.5" stroke-dashoffset="86.21"/><line x1="262.59" y1="931.25" x2="348.62" y2="936.25" stroke="#0a4d0a" stroke-width="2.2" stroke-dasharray="13,7.5" stroke-dashoffset="173.26"/><line x1="348.62" y1="936.25" x2="434.66" y2="941.5" stroke="#0a4d0a" stroke-width="2.2" stroke-dasharray="13,7.5" stroke-dashoffset="259.44"/><line x1="434.66" y1="941.5" x2="520.7" y2="938.25" stroke="#0a4d0a" stroke-width="2.2" stroke-dasharray="13,7.5" stroke-dashoffset="345.64"/><line x1="520.7" y1="938.25" x2="606.73" y2="939.5" stroke="#0a4d0a" stroke-width="2.2" stroke-dasharray="13,7.5" stroke-dashoffset="431.74"/><line x1="90.52" y1="884.5" x2="176.55" y2="889.5" stroke="#e60000" stroke-width="2.2" stroke-dasharray="13,7.5" stroke-dashoffset="0"/><line x1="176.55" y1="889.5" x2="262.59" y2="906.25" stroke="#e60000" stroke-width="2.2" stroke-dasharray="13,7.5" stroke-dashoffset="86.18"/><line x1="262.59" y1="906.25" x2="348.62" y2="889" stroke="#e60000" stroke-width="2.2" stroke-dasharray="13,7.5" stroke-dashoffset="173.83"/><line x1="348.62" y1="889" x2="434.66" y2="942.5" stroke="#e60000" stroke-width="2.2" stroke-dasharray="13,7.5" stroke-dashoffset="261.58"/><line x1="434.66" y1="942.5" x2="520.7" y2="917.5" stroke="#e60000" stroke-width="2.2" stroke-dasharray="13,7.5" stroke-dashoffset="362.89"/><line x1="520.7" y1="917.5" x2="606.73" y2="853.75" stroke="#e60000" stroke-width="2.2" stroke-dasharray="13,7.5" stroke-dashoffset="452.49"/><polyline points="90.52,928 176.55,901.25 262.59,945 348.62,933 434.66,953.75 520.7,920 606.73,942" fill="none" stroke="#0a4d0a" stroke-width="2.1" stroke-linejoin="round"/><polyline points="90.52,884.5 176.55,776.25 262.59,921.25 348.62,882.5 434.66,942.5 520.7,947 606.73,855.5" fill="none" stroke="#e60000" stroke-width="2.2" stroke-linejoin="round"/><text transform="translate(327.2,709.6) scale(1,1.1)" font-size="19.8" font-weight="bold" stroke="#000" stroke-width="0.5">Site 3</text><text transform="translate(10.2,841.5) rotate(-90)" font-size="12.4" font-weight="bold" stroke="#000" stroke-width="0.4" text-anchor="middle">% of total sample collecting</text><text transform="translate(694,843.5) rotate(-90)" font-size="12.4" font-weight="bold" stroke="#000" stroke-width="0.4" text-anchor="middle">Average income per collecting household</text><text transform="translate(709.5,842.5) rotate(-90)" font-size="12.4" font-weight="bold" stroke="#000" stroke-width="0.4" text-anchor="middle">(US$ (PPP adjusted) per aeu)</text></g><g><line x1="47.75" y1="1061.25" x2="655.25" y2="1061.25" stroke="#3a3a3a" stroke-width="1.3"/><rect x="59.5" y="1169.5" width="16" height="141" fill="#8c8c8c" stroke="#000" stroke-width="1.2"/><rect x="75.5" y="1068.5" width="16" height="242" fill="url(#hl)" stroke="#000" stroke-width="1.2"/><rect x="91.5" y="1161.5" width="15" height="149" fill="#000" stroke="#000" stroke-width="1.2"/><rect x="106.5" y="1068.5" width="16" height="242" fill="url(#hd)" stroke="#000" stroke-width="1.2"/><rect x="146.5" y="1174.5" width="16" height="136" fill="#8c8c8c" stroke="#000" stroke-width="1.2"/><rect x="162.5" y="1127.5" width="15" height="183" fill="url(#hl)" stroke="#000" stroke-width="1.2"/><rect x="177.5" y="1144.5" width="16" height="166" fill="#000" stroke="#000" stroke-width="1.2"/><rect x="193.5" y="1106.5" width="16" height="204" fill="url(#hd)" stroke="#000" stroke-width="1.2"/><rect x="233.5" y="1242.5" width="15" height="68" fill="#8c8c8c" stroke="#000" stroke-width="1.2"/><rect x="248.5" y="1169.5" width="16" height="141" fill="url(#hl)" stroke="#000" stroke-width="1.2"/><rect x="264.5" y="1229.5" width="16" height="81" fill="#000" stroke="#000" stroke-width="1.2"/><rect x="280.5" y="1133.5" width="16" height="177" fill="url(#hd)" stroke="#000" stroke-width="1.2"/><rect x="319.5" y="1218.5" width="16" height="92" fill="#8c8c8c" stroke="#000" stroke-width="1.2"/><rect x="335.5" y="1254.5" width="16" height="56" fill="url(#hl)" stroke="#000" stroke-width="1.2"/><rect x="351.5" y="1215.5" width="16" height="95" fill="#000" stroke="#000" stroke-width="1.2"/><rect x="367.5" y="1250.5" width="16" height="60" fill="url(#hd)" stroke="#000" stroke-width="1.2"/><rect x="406.5" y="1268.5" width="16" height="42" fill="#8c8c8c" stroke="#000" stroke-width="1.2"/><rect x="422.5" y="1268.5" width="16" height="42" fill="url(#hl)" stroke="#000" stroke-width="1.2"/><rect x="438.5" y="1246.5" width="16" height="64" fill="#000" stroke="#000" stroke-width="1.2"/><rect x="454.5" y="1256.5" width="15" height="54" fill="url(#hd)" stroke="#000" stroke-width="1.2"/><rect x="540.5" y="1308.5" width="16" height="2" fill="url(#hd)" stroke="#000" stroke-width="1.2"/><rect x="580.5" y="1253.5" width="16" height="57" fill="#8c8c8c" stroke="#000" stroke-width="1.2"/><rect x="596.5" y="1193.5" width="15" height="117" fill="url(#hl)" stroke="#000" stroke-width="1.2"/><rect x="611.5" y="1205.5" width="16" height="105" fill="#000" stroke="#000" stroke-width="1.2"/><rect x="627.5" y="1165.5" width="16" height="145" fill="url(#hd)" stroke="#000" stroke-width="1.2"/><line x1="47.5" y1="1061.25" x2="47.5" y2="1314.5" stroke="#000" stroke-width="1.2"/><line x1="655.5" y1="1061.25" x2="655.5" y2="1314.5" stroke="#000" stroke-width="1.2"/><line x1="43.5" y1="1310.5" x2="659.5" y2="1310.5" stroke="#000" stroke-width="1.2"/><line x1="43.75" y1="1310.5" x2="50.75" y2="1310.5" stroke="#000" stroke-width="1"/><text transform="translate(38,1314.8) scale(1,1.05)" font-size="11" font-weight="bold" text-anchor="end">0</text><line x1="43.75" y1="1285.58" x2="50.75" y2="1285.58" stroke="#000" stroke-width="1"/><text transform="translate(38,1289.88) scale(1,1.05)" font-size="11" font-weight="bold" text-anchor="end">10</text><line x1="43.75" y1="1260.65" x2="50.75" y2="1260.65" stroke="#000" stroke-width="1"/><text transform="translate(38,1264.95) scale(1,1.05)" font-size="11" font-weight="bold" text-anchor="end">20</text><line x1="43.75" y1="1235.72" x2="50.75" y2="1235.72" stroke="#000" stroke-width="1"/><text transform="translate(38,1240.02) scale(1,1.05)" font-size="11" font-weight="bold" text-anchor="end">30</text><line x1="43.75" y1="1210.8" x2="50.75" y2="1210.8" stroke="#000" stroke-width="1"/><text transform="translate(38,1215.1) scale(1,1.05)" font-size="11" font-weight="bold" text-anchor="end">40</text><line x1="43.75" y1="1185.88" x2="50.75" y2="1185.88" stroke="#000" stroke-width="1"/><text transform="translate(38,1190.17) scale(1,1.05)" font-size="11" font-weight="bold" text-anchor="end">50</text><line x1="43.75" y1="1160.95" x2="50.75" y2="1160.95" stroke="#000" stroke-width="1"/><text transform="translate(38,1165.25) scale(1,1.05)" font-size="11" font-weight="bold" text-anchor="end">60</text><line x1="43.75" y1="1136.03" x2="50.75" y2="1136.03" stroke="#000" stroke-width="1"/><text transform="translate(38,1140.33) scale(1,1.05)" font-size="11" font-weight="bold" text-anchor="end">70</text><line x1="43.75" y1="1111.1" x2="50.75" y2="1111.1" stroke="#000" stroke-width="1"/><text transform="translate(38,1115.4) scale(1,1.05)" font-size="11" font-weight="bold" text-anchor="end">80</text><line x1="43.75" y1="1086.17" x2="50.75" y2="1086.17" stroke="#000" stroke-width="1"/><text transform="translate(38,1090.47) scale(1,1.05)" font-size="11" font-weight="bold" text-anchor="end">90</text><line x1="43.75" y1="1061.25" x2="50.75" y2="1061.25" stroke="#000" stroke-width="1"/><text transform="translate(38,1065.55) scale(1,1.05)" font-size="11" font-weight="bold" text-anchor="end">100</text><line x1="651.25" y1="1310.5" x2="659.25" y2="1310.5" stroke="#000" stroke-width="1"/><text transform="translate(665,1314.1) scale(1,1.07)" font-size="11.6" text-anchor="start" stroke="#000" stroke-width="0.55">0</text><line x1="651.25" y1="1274.89" x2="659.25" y2="1274.89" stroke="#000" stroke-width="1"/><text transform="translate(665,1278.49) scale(1,1.07)" font-size="11.6" text-anchor="start" stroke="#000" stroke-width="0.55">20</text><line x1="651.25" y1="1239.29" x2="659.25" y2="1239.29" stroke="#000" stroke-width="1"/><text transform="translate(665,1242.89) scale(1,1.07)" font-size="11.6" text-anchor="start" stroke="#000" stroke-width="0.55">40</text><line x1="651.25" y1="1203.68" x2="659.25" y2="1203.68" stroke="#000" stroke-width="1"/><text transform="translate(665,1207.28) scale(1,1.07)" font-size="11.6" text-anchor="start" stroke="#000" stroke-width="0.55">60</text><line x1="651.25" y1="1168.07" x2="659.25" y2="1168.07" stroke="#000" stroke-width="1"/><text transform="translate(665,1171.67) scale(1,1.07)" font-size="11.6" text-anchor="start" stroke="#000" stroke-width="0.55">80</text><line x1="651.25" y1="1132.46" x2="659.25" y2="1132.46" stroke="#000" stroke-width="1"/><text transform="translate(665,1136.06) scale(1,1.07)" font-size="11.6" text-anchor="start" stroke="#000" stroke-width="0.55">100</text><line x1="651.25" y1="1096.86" x2="659.25" y2="1096.86" stroke="#000" stroke-width="1"/><text transform="translate(665,1100.46) scale(1,1.07)" font-size="11.6" text-anchor="start" stroke="#000" stroke-width="0.55">120</text><line x1="651.25" y1="1061.25" x2="659.25" y2="1061.25" stroke="#000" stroke-width="1"/><text transform="translate(665,1064.85) scale(1,1.07)" font-size="11.6" text-anchor="start" stroke="#000" stroke-width="0.55">140</text><line x1="134.54" y1="1306.5" x2="134.54" y2="1314.5" stroke="#000" stroke-width="1"/><line x1="221.32" y1="1306.5" x2="221.32" y2="1314.5" stroke="#000" stroke-width="1"/><line x1="308.11" y1="1306.5" x2="308.11" y2="1314.5" stroke="#000" stroke-width="1"/><line x1="394.89" y1="1306.5" x2="394.89" y2="1314.5" stroke="#000" stroke-width="1"/><line x1="481.68" y1="1306.5" x2="481.68" y2="1314.5" stroke="#000" stroke-width="1"/><line x1="568.46" y1="1306.5" x2="568.46" y2="1314.5" stroke="#000" stroke-width="1"/><text transform="translate(91.14,1331.75) scale(1,1.1)" font-size="11.8" text-anchor="middle" stroke="#000" stroke-width="0.5">Fuelwood</text><text transform="translate(177.93,1331.75) scale(1,1.1)" font-size="11.8" text-anchor="middle" stroke="#000" stroke-width="0.5">Bushmeat</text><text transform="translate(264.71,1331.75) scale(1,1.1)" font-size="11.8" text-anchor="middle" stroke="#000" stroke-width="0.5">Wild Foods</text><text transform="translate(351.5,1331.75) scale(1,1.1)" font-size="11.8" text-anchor="middle" stroke="#000" stroke-width="0.5">Poles and</text><text transform="translate(351.5,1347.75) scale(1,1.1)" font-size="11.8" text-anchor="middle" stroke="#000" stroke-width="0.5">timber</text><text transform="translate(438.29,1331.75) scale(1,1.1)" font-size="11.8" text-anchor="middle" stroke="#000" stroke-width="0.5">Medicinal plants</text><text transform="translate(525.07,1331.75) scale(1,1.1)" font-size="11.8" text-anchor="middle" stroke="#000" stroke-width="0.5">Thatching grass</text><text transform="translate(611.86,1331.75) scale(1,1.1)" font-size="11.8" text-anchor="middle" stroke="#000" stroke-width="0.5">Construction</text><text transform="translate(611.86,1347.75) scale(1,1.1)" font-size="11.8" text-anchor="middle" stroke="#000" stroke-width="0.5">material</text><line x1="91.14" y1="1244.4" x2="177.93" y2="1272" stroke="#0a4d0a" stroke-width="2.2" stroke-dasharray="13,7.5" stroke-dashoffset="0"/><line x1="177.93" y1="1272" x2="264.71" y2="1282.5" stroke="#0a4d0a" stroke-width="2.2" stroke-dasharray="13,7.5" stroke-dashoffset="91.07"/><line x1="264.71" y1="1282.5" x2="351.5" y2="1297.5" stroke="#0a4d0a" stroke-width="2.2" stroke-dasharray="13,7.5" stroke-dashoffset="178.49"/><line x1="351.5" y1="1297.5" x2="438.29" y2="1282.5" stroke="#0a4d0a" stroke-width="2.2" stroke-dasharray="13,7.5" stroke-dashoffset="266.56"/><line x1="438.29" y1="1282.5" x2="525.07" y2="1309.5" stroke="#0a4d0a" stroke-width="2.2" stroke-dasharray="13,7.5" stroke-dashoffset="354.63"/><line x1="525.07" y1="1309.5" x2="611.86" y2="1278.75" stroke="#0a4d0a" stroke-width="2.2" stroke-dasharray="13,7.5" stroke-dashoffset="445.52"/><line x1="91.14" y1="1215" x2="177.93" y2="1097.5" stroke="#e60000" stroke-width="2.2" stroke-dasharray="13,7.5" stroke-dashoffset="0"/><line x1="177.93" y1="1097.5" x2="264.71" y2="1267.5" stroke="#e60000" stroke-width="2.2" stroke-dasharray="13,7.5" stroke-dashoffset="146.08"/><line x1="264.71" y1="1267.5" x2="351.5" y2="1287.5" stroke="#e60000" stroke-width="2.2" stroke-dasharray="13,7.5" stroke-dashoffset="336.95"/><line x1="351.5" y1="1287.5" x2="438.29" y2="1282" stroke="#e60000" stroke-width="2.2" stroke-dasharray="13,7.5" stroke-dashoffset="426.01"/><line x1="438.29" y1="1282" x2="525.07" y2="1309.5" stroke="#e60000" stroke-width="2.2" stroke-dasharray="13,7.5" stroke-dashoffset="512.97"/><line x1="525.07" y1="1309.5" x2="611.86" y2="1171.25" stroke="#e60000" stroke-width="2.2" stroke-dasharray="13,7.5" stroke-dashoffset="604.01"/><polyline points="91.14,1279.4 177.93,1257.5 264.71,1283 351.5,1277.5 438.29,1298.25 525.07,1309.5 611.86,1283.75" fill="none" stroke="#0a4d0a" stroke-width="2.1" stroke-linejoin="round"/><polyline points="91.14,1275 177.93,1101 264.71,1241.25 351.5,1097 438.29,1282.5 525.07,1309.5 611.86,1220" fill="none" stroke="#e60000" stroke-width="2.2" stroke-linejoin="round"/><text transform="translate(329.8,1055.9) scale(1,1.1)" font-size="19.8" font-weight="bold" stroke="#000" stroke-width="0.5">Site 4</text><text transform="translate(10.2,1186.88) rotate(-90)" font-size="12.4" font-weight="bold" stroke="#000" stroke-width="0.4" text-anchor="middle">% of total sample collecting</text><text transform="translate(699.5,1188.88) rotate(-90)" font-size="12.4" font-weight="bold" stroke="#000" stroke-width="0.4" text-anchor="middle">Average income per collecting household</text><text transform="translate(715.3,1187.88) rotate(-90)" font-size="12.4" font-weight="bold" stroke="#000" stroke-width="0.4" text-anchor="middle">(US$ (PPP adjusted) per aeu)</text></g><g><rect x="4.5" y="1371.25" width="721" height="99.5" fill="none" stroke="#000" stroke-width="2.5"/><rect x="53" y="1379.5" width="45.75" height="8.5" fill="#8c8c8c" stroke="#000" stroke-width="1"/><rect x="53" y="1404" width="45.75" height="9" fill="#000" stroke="#000" stroke-width="1"/><line x1="53" y1="1433.25" x2="100" y2="1433.25" stroke="#0a4d0a" stroke-width="2.5"/><line x1="53" y1="1458.25" x2="100" y2="1458.25" stroke="#e60000" stroke-width="2.5"/><text transform="translate(102.5,1387.75) scale(1,1.07)" font-size="14" stroke="#000" stroke-width="0.45">Forest (poor)</text><text transform="translate(102.5,1412.5) scale(1,1.07)" font-size="14" stroke="#000" stroke-width="0.45">Forest (better-off)</text><text transform="translate(102.5,1437.1) scale(1,1.07)" font-size="14" stroke="#000" stroke-width="0.45">Forest (poor)</text><text transform="translate(102.5,1462.1) scale(1,1.07)" font-size="14" stroke="#000" stroke-width="0.45">Forest (better-off)</text><rect x="414.75" y="1379.5" width="45.75" height="8.5" fill="url(#hl)" stroke="#000" stroke-width="1"/><rect x="414.75" y="1404" width="45.75" height="9" fill="url(#hd)" stroke="#000" stroke-width="1"/><line x1="415" y1="1433.1" x2="456" y2="1433.1" stroke="#0a4d0a" stroke-width="2.6" stroke-dasharray="15.5,9.5"/><line x1="415" y1="1458.1" x2="456" y2="1458.1" stroke="#e60000" stroke-width="2.6" stroke-dasharray="15.5,9.5"/><text transform="translate(464,1387.75) scale(1,1.07)" font-size="14" stroke="#000" stroke-width="0.45">Non-forest environment (poor)</text><text transform="translate(464,1412.5) scale(1,1.07)" font-size="14" stroke="#000" stroke-width="0.45">Non-forest environment (better-off)</text><text transform="translate(464,1437.1) scale(1,1.07)" font-size="14" stroke="#000" stroke-width="0.45">Non-forest environment (poor)</text><text transform="translate(464,1462.1) scale(1,1.07)" font-size="14" stroke="#000" stroke-width="0.45">Non-forest environment (better-off)</text></g></svg>
</body></html>
